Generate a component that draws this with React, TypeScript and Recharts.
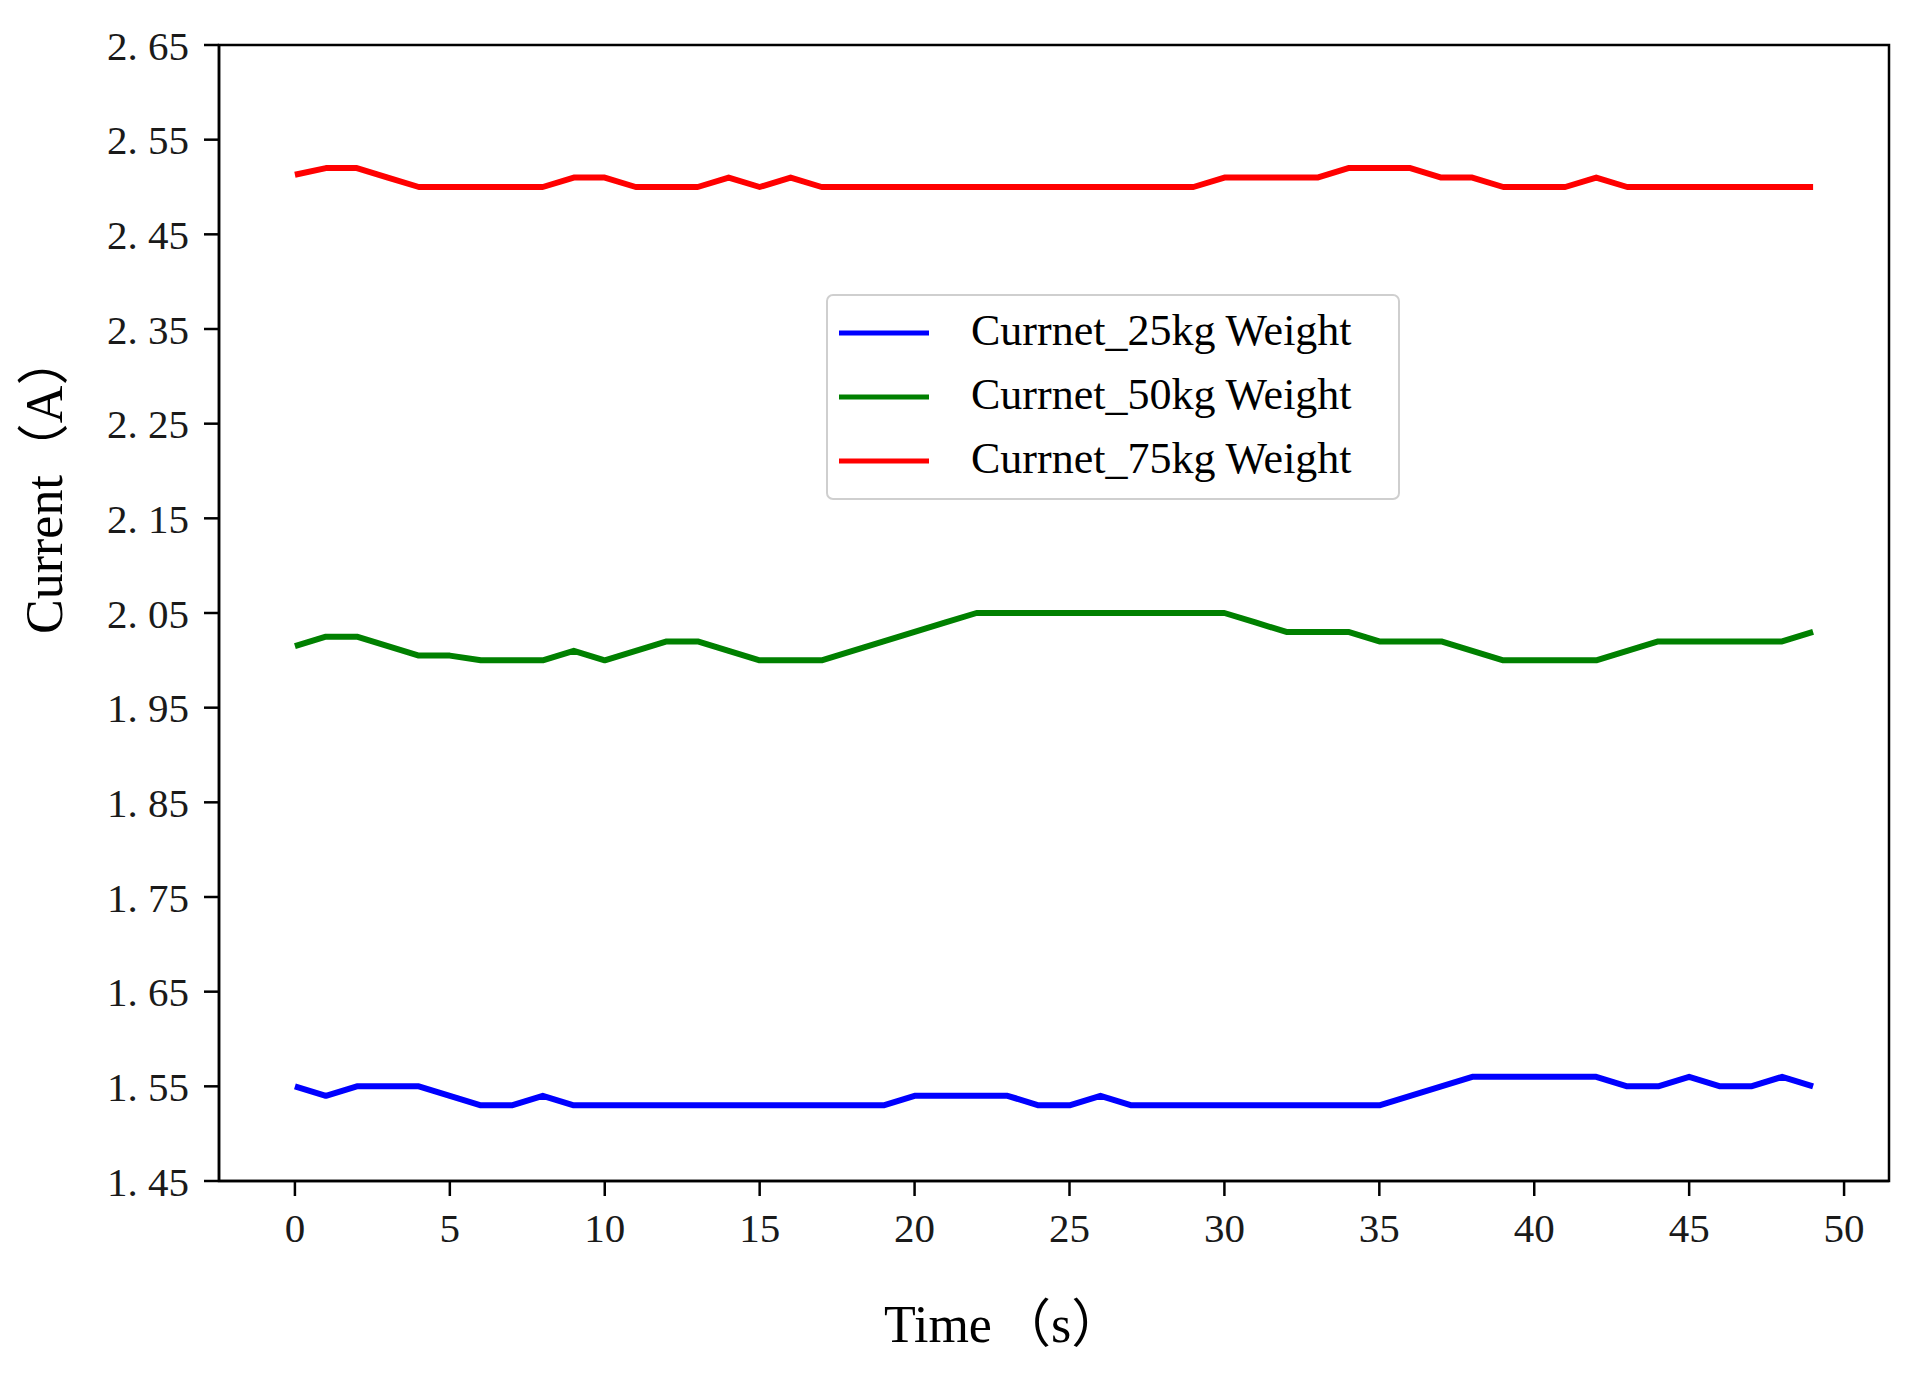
import React from 'react';
import { LineChart, Line, XAxis, YAxis, Legend, ReferenceArea, Label } from 'recharts';

const TIME = [0, 1, 2, 3, 4, 5, 6, 7, 8, 9, 10, 11, 12, 13, 14, 15, 16, 17, 18, 19, 20, 21, 22, 23, 24, 25, 26, 27, 28, 29, 30, 31, 32, 33, 34, 35, 36, 37, 38, 39, 40, 41, 42, 43, 44, 45, 46, 47, 48, 49];

const CURRENT_25KG = [
  1.55, 1.54, 1.55, 1.55, 1.55, 1.54, 1.53, 1.53, 1.54, 1.53,
  1.53, 1.53, 1.53, 1.53, 1.53, 1.53, 1.53, 1.53, 1.53, 1.53,
  1.54, 1.54, 1.54, 1.54, 1.53, 1.53, 1.54, 1.53, 1.53, 1.53,
  1.53, 1.53, 1.53, 1.53, 1.53, 1.53, 1.54, 1.55, 1.56, 1.56,
  1.56, 1.56, 1.56, 1.55, 1.55, 1.56, 1.55, 1.55, 1.56, 1.55,
];

const CURRENT_50KG = [
  2.015, 2.025, 2.025, 2.015, 2.005, 2.005, 2.0, 2.0, 2.0, 2.01,
  2.0, 2.01, 2.02, 2.02, 2.01, 2.0, 2.0, 2.0, 2.01, 2.02,
  2.03, 2.04, 2.05, 2.05, 2.05, 2.05, 2.05, 2.05, 2.05, 2.05,
  2.05, 2.04, 2.03, 2.03, 2.03, 2.02, 2.02, 2.02, 2.01, 2.0,
  2.0, 2.0, 2.0, 2.01, 2.02, 2.02, 2.02, 2.02, 2.02, 2.03,
];

const CURRENT_75KG = [
  2.513, 2.52, 2.52, 2.51, 2.5, 2.5, 2.5, 2.5, 2.5, 2.51,
  2.51, 2.5, 2.5, 2.5, 2.51, 2.5, 2.51, 2.5, 2.5, 2.5,
  2.5, 2.5, 2.5, 2.5, 2.5, 2.5, 2.5, 2.5, 2.5, 2.5,
  2.51, 2.51, 2.51, 2.51, 2.52, 2.52, 2.52, 2.51, 2.51, 2.5,
  2.5, 2.5, 2.51, 2.5, 2.5, 2.5, 2.5, 2.5, 2.5, 2.5,
];

const SERIES_KEYS = ['c25', 'c50', 'c75'];
const SERIES_NAMES = ['Currnet_25kg Weight', 'Currnet_50kg Weight', 'Currnet_75kg Weight'];
const SERIES_COLORS = ['#0000ff', '#008000', '#ff0000'];

const X_TICKS = [0, 5, 10, 15, 20, 25, 30, 35, 40, 45, 50];
const Y_TICKS = [1.45, 1.55, 1.65, 1.75, 1.85, 1.95, 2.05, 2.15, 2.25, 2.35, 2.45, 2.55, 2.65];
const X_DOMAIN = [-2.45, 51.45];
const Y_DOMAIN = [1.45, 2.65];
const X_LABEL_WORD = 'Time';
const X_LABEL_UNIT = ' （s）';
const Y_LABEL = 'Current（A）';

const data = TIME.map((t, i) => ({
  t,
  c25: CURRENT_25KG[i],
  c50: CURRENT_50KG[i],
  c75: CURRENT_75KG[i],
}));

const SERIF = "'Liberation Serif', 'Times New Roman', 'Noto Sans CJK SC', serif";

const tickStyle = { fontFamily: SERIF, fontSize: 41, fill: '#1a1a1a' };

const renderLegend = (props: any) => {
  const payload = props.payload || [];
  return (
    <div
      style={{
        width: 570,
        height: 202,
        border: '2px solid #cfcfcf',
        borderRadius: 7,
        background: 'rgba(255,255,255,0.85)',
        position: 'relative',
        boxSizing: 'content-box',
      }}
    >
      {payload.map((entry: any, i: number) => (
        <div
          key={i}
          style={{
            position: 'absolute',
            left: 0,
            top: 3 + i * 64,
            height: 64,
            width: 570,
            lineHeight: '64px',
          }}
        >
          <svg width={110} height={64} style={{ position: 'absolute', left: 9, top: 2 }}>
            <line x1={2} y1={32} x2={92} y2={32} stroke={entry.color} strokeWidth={5} />
          </svg>
          <span
            style={{
              position: 'absolute',
              left: 143,
              top: 0,
              fontFamily: SERIF,
              fontSize: 44,
              color: '#000',
              whiteSpace: 'nowrap',
            }}
          >
            {entry.value}
          </span>
        </div>
      ))}
    </div>
  );
};

const renderYLabel = (props: any) => {
  const vb = props.viewBox || { x: 0, y: 37, width: 211, height: 1136 };
  const x = vb.x + 54;
  const y = vb.y + 589;
  return (
    <text
      x={x}
      y={y}
      transform={`rotate(-90, ${x}, ${y})`}
      textAnchor="start"
      fontFamily={SERIF}
      fontSize={52}
      fill="#000"
    >
      {Y_LABEL}
    </text>
  );
};

const renderXLabel = (props: any) => {
  const vb = props.viewBox || { x: 211, y: 1173, width: 1670, height: 100 };
  const x = vb.x + 665;
  const y = vb.y + 161;
  return (
    <text x={x} y={y} textAnchor="start" fontFamily={SERIF} fontSize={52} fill="#000">
      <tspan>{X_LABEL_WORD}</tspan>
      <tspan dx={-6}>{X_LABEL_UNIT}</tspan>
    </text>
  );
};

export default function App() {
  return (
    <div style={{ width: 1914, height: 1366, background: '#fff' }}>
      <LineChart
        width={1914}
        height={1366}
        data={data}
        margin={{ top: 37, right: 33, bottom: 93, left: 0 }}
      >
        <ReferenceArea
          x1={X_DOMAIN[0]}
          x2={X_DOMAIN[1]}
          y1={Y_DOMAIN[0]}
          y2={Y_DOMAIN[1]}
          fill="none"
          fillOpacity={0}
          stroke="#000"
          strokeWidth={2.5}
          ifOverflow="visible"
        />
        <XAxis
          dataKey="t"
          type="number"
          domain={X_DOMAIN}
          ticks={X_TICKS}
          allowDataOverflow
          height={100}
          tick={tickStyle}
          tickSize={15}
          tickMargin={17}
          tickLine={{ stroke: '#000', strokeWidth: 2.5 }}
          axisLine={{ stroke: '#000', strokeWidth: 2.5 }}
        >
          <Label content={renderXLabel} />
        </XAxis>
        <YAxis
          type="number"
          domain={Y_DOMAIN}
          ticks={Y_TICKS}
          allowDataOverflow
          width={211}
          tick={tickStyle}
          tickSize={15}
          tickMargin={15}
          tickFormatter={(v: number) => v.toFixed(2).replace('.', '. ')}
          tickLine={{ stroke: '#000', strokeWidth: 2.5 }}
          axisLine={{ stroke: '#000', strokeWidth: 2.5 }}
        >
          <Label content={renderYLabel} />
        </YAxis>
        <Legend
          layout="vertical"
          align="center"
          verticalAlign="middle"
          content={renderLegend}
          wrapperStyle={{ position: 'absolute', left: 818, top: 286, width: 574, height: 206 }}
        />
        {SERIES_KEYS.map((k, i) => (
          <Line
            key={k}
            type="linear"
            dataKey={k}
            name={SERIES_NAMES[i]}
            stroke={SERIES_COLORS[i]}
            strokeWidth={6}
            strokeLinejoin="round"
            dot={false}
            activeDot={false}
            isAnimationActive={false}
          />
        ))}
      </LineChart>
    </div>
  );
}
